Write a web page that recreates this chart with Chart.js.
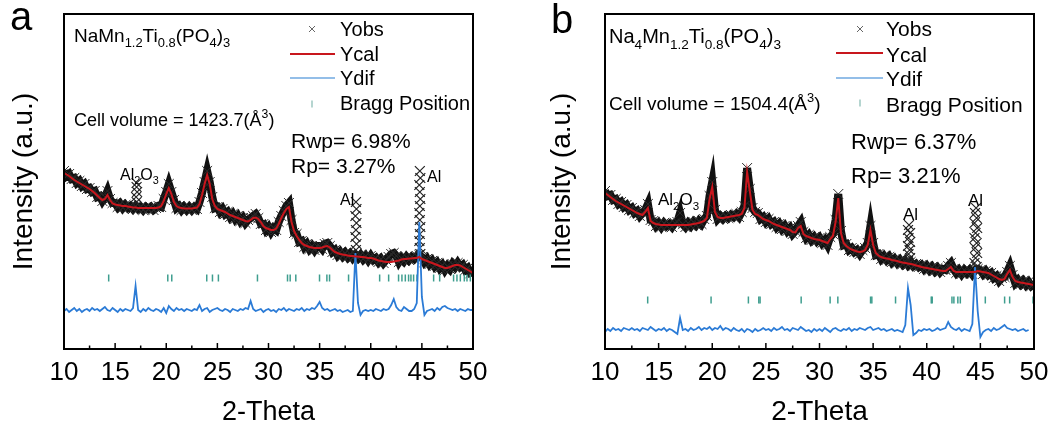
<!DOCTYPE html>
<html lang="en">

<head>
    <meta charset="UTF-8" />
    <title>XRD Rietveld refinement</title>
    <script src="https://cdn.jsdelivr.net/npm/chart.js"></script>
    <style>
        body {
            margin: 0;
            background: #fff;
        }

        #wrap {
            position: relative;
            width: 1062px;
            height: 426px;
        }

        canvas {
            position: absolute;
            top: 0;
        }
    </style>
</head>

<body>
    <div id="wrap">
        <canvas id="chartA" width="531" height="426" style="left:0"></canvas>
        <canvas id="chartB" width="531" height="426" style="left:531px"></canvas>
    </div>

    <script>
        // 2-theta grid shared by both patterns (deg)
        const twoTheta = [
            10, 10.25, 10.5, 10.75, 11, 11.25, 11.5, 11.75, 12, 12.25,
            12.5, 12.75, 13, 13.25, 13.5, 13.75, 14, 14.25, 14.5, 14.75,
            15, 15.25, 15.5, 15.75, 16, 16.25, 16.5, 16.75, 17, 17.25,
            17.5, 17.75, 18, 18.25, 18.5, 18.75, 19, 19.25, 19.5, 19.75,
            20, 20.25, 20.5, 20.75, 21, 21.25, 21.5, 21.75, 22, 22.25,
            22.5, 22.75, 23, 23.25, 23.5, 23.75, 24, 24.25, 24.5, 24.75,
            25, 25.25, 25.5, 25.75, 26, 26.25, 26.5, 26.75, 27, 27.25,
            27.5, 27.75, 28, 28.25, 28.5, 28.75, 29, 29.25, 29.5, 29.75,
            30, 30.25, 30.5, 30.75, 31, 31.25, 31.5, 31.75, 32, 32.25,
            32.5, 32.75, 33, 33.25, 33.5, 33.75, 34, 34.25, 34.5, 34.75,
            35, 35.25, 35.5, 35.75, 36, 36.25, 36.5, 36.75, 37, 37.25,
            37.5, 37.75, 38, 38.25, 38.5, 38.75, 39, 39.25, 39.5, 39.75,
            40, 40.25, 40.5, 40.75, 41, 41.25, 41.5, 41.75, 42, 42.25,
            42.5, 42.75, 43, 43.25, 43.5, 43.75, 44, 44.25, 44.5, 44.75,
            45, 45.25, 45.5, 45.75, 46, 46.25, 46.5, 46.75, 47, 47.25,
            47.5, 47.75, 48, 48.25, 48.5, 48.75, 49, 49.25, 49.5, 49.75,
            50
        ];

        // ---- (a) NaMn1.2Ti0.8(PO4)3 ----
        const obsA = [
            178, 173, 175, 170, 171, 166, 168, 163, 165, 160,
            161, 157, 158, 152, 153, 148, 152, 158, 150, 146,
            146, 142, 145, 141, 144, 141, 143, 140, 143, 140,
            142, 139, 142, 140, 142, 139, 141, 143, 142, 150,
            157, 165, 157, 149, 141, 143, 139, 142, 139, 142,
            139, 142, 140, 147, 156, 167, 178, 167, 152, 141,
            142, 137, 140, 135, 137, 132, 135, 130, 133, 128,
            131, 126, 129, 131, 133, 135, 131, 125, 125, 119,
            122, 117, 121, 119, 127, 133, 138, 143, 146, 129,
            116, 115, 107, 108, 102, 105, 100, 103, 99, 103,
            103, 100, 105, 106, 103, 97, 99, 94, 97, 93,
            96, 92, 95, 91, 94, 91, 94, 90, 93, 89,
            93, 89, 91, 87, 90, 86, 89, 92, 95, 96,
            93, 87, 91, 88, 92, 89, 92, 90, 93, 94,
            92, 87, 90, 85, 88, 83, 86, 81, 84, 79,
            83, 80, 85, 82, 86, 82, 84, 79, 81, 76,
            77
        ];
        const calA = [
            176, 174.5, 173, 171, 169, 167.5, 166, 164.5, 163, 161.5,
            160, 158, 156, 153.5, 151, 149, 150, 154, 149, 145.5,
            144.5, 144, 143.5, 143, 143, 142.5, 142, 141.5, 141.5, 141,
            141, 141, 141, 141, 141, 141, 141, 141.5, 143, 148,
            155, 161, 155, 147, 143, 141.5, 141, 140.5, 140.5, 140.5,
            140.5, 141, 141.5, 145, 154, 165, 174, 165, 150, 143,
            140, 139, 138, 137, 135.5, 134, 133, 132, 131, 130,
            129, 128, 127.5, 129, 131, 131.5, 130, 127, 123, 121,
            120, 119, 119, 120.5, 125, 131, 136, 140, 142, 127,
            118, 113, 109, 106, 104, 103, 102, 101.5, 101, 101,
            101, 101.5, 102.5, 103, 101.5, 99, 97, 96, 95, 94.5,
            94, 93.5, 93, 93, 92.5, 92.5, 92, 92, 91.5, 91,
            91, 90.5, 89.5, 88.5, 88, 87.5, 87, 87, 87, 87.5,
            88, 88.5, 89.5, 90, 90, 90.5, 90.5, 91, 91, 92,
            90, 89, 88, 87, 86, 85, 84, 83, 82, 81,
            81, 82, 83, 84, 84, 83.5, 82, 80.5, 79, 77.5,
            76
        ];
        const difA = [
            38, 40, 37, 39, 41, 38, 40, 37, 39, 40,
            38, 41, 39, 40, 38, 40, 42, 39, 38, 41,
            39, 37, 40, 38, 40, 39, 38, 41, 63, 39,
            37, 40, 38, 41, 39, 38, 40, 39, 37, 41,
            36, 43, 40, 38, 41, 39, 40, 38, 40, 39,
            38, 40, 39, 44, 38, 40, 41, 37, 39, 40,
            41, 39, 38, 40, 39, 37, 40, 39, 38, 40,
            39, 41, 40, 48, 40, 38, 39, 40, 37, 39,
            40, 38, 39, 37, 40, 39, 41, 38, 40, 39,
            38, 40, 39, 41, 38, 40, 39, 41, 40, 43,
            47, 41, 39, 40, 38, 39, 40, 38, 39, 37,
            38, 39, 37, 38, 96, 46, 34, 38, 39, 38,
            39, 38, 40, 39, 38, 40, 39, 40, 44, 50,
            42, 39, 38, 42, 40, 38, 38, 40, 46, 127,
            52, 34, 38, 39, 40, 38, 41, 39, 42, 43,
            41, 40, 39, 40, 38, 40, 39, 38, 40, 39,
            39
        ];
        // stacked Yobs crosses at the Al2O3 and Al reflections
        const alXA = [17.1, 17.05, 17.15, 17.1, 17.1,
            38.55, 38.6, 38.5, 38.6, 38.55, 38.5, 38.6, 38.55,
            44.8, 44.85, 44.75, 44.8, 44.85, 44.8, 44.75, 44.8, 44.85, 44.8, 44.75, 44.8, 44.85];
        const alYA = [147, 152, 157, 162, 166,
            147, 140, 133, 126, 119, 112, 105, 99,
            178, 171, 164, 157, 150, 143, 136, 129, 122, 115, 108, 101, 95];
        const braggA = [14.37, 20.15, 20.54, 23.96, 24.52, 25.1, 28.92, 31.86, 32.12, 32.67,
            34.99, 35.71, 35.97, 37.83, 40.87, 41.75, 42.72, 43.05, 43.38, 43.7, 43.93,
            44.19, 44.52, 46.15, 46.74, 48.1, 48.43, 48.76, 49.15, 49.41, 49.74];

        // ---- (b) Na4Mn1.2Ti0.8(PO4)3 ----
        const obsB = [
            158, 153, 154, 149, 150, 145, 147, 142, 144, 139,
            141, 136, 138, 133, 136, 139, 145, 129, 128, 123,
            126, 122, 126, 123, 125, 122, 126, 127, 136, 125,
            122, 126, 123, 127, 124, 128, 125, 130, 133, 153,
            167, 139, 130, 133, 130, 133, 131, 134, 132, 135,
            132, 137, 143, 181, 160, 141, 137, 136, 130, 132,
            127, 130, 125, 127, 122, 125, 120, 123, 118, 121,
            115, 118, 123, 127, 117, 111, 114, 109, 112, 108,
            111, 106, 109, 104, 112, 115, 129, 155, 118, 104,
            105, 99, 101, 97, 99, 95, 99, 101, 106, 123,
            106, 94, 95, 90, 93, 89, 92, 87, 90, 86,
            89, 85, 88, 84, 87, 83, 85, 82, 84, 80,
            83, 79, 82, 78, 81, 77, 80, 79, 83, 86,
            80, 76, 79, 75, 79, 76, 79, 75, 79, 80,
            79, 75, 78, 74, 76, 71, 73, 68, 71, 72,
            77, 83, 74, 66, 69, 65, 68, 64, 67, 63,
            65
        ];
        const calB = [
            156, 154, 152, 150, 148, 146.5, 145, 143.5, 142, 140.5,
            139, 137.5, 136, 135, 134, 137, 141, 128, 126, 125,
            124.5, 124, 124, 124, 124, 124, 124, 124, 124, 124,
            124, 124, 124.5, 125, 125.5, 126, 127, 128, 131, 150,
            162, 137, 132, 131, 131, 131.5, 132, 132.5, 133, 133.5,
            134, 135, 141, 177, 158, 139, 135, 134, 132, 130,
            129, 128, 126.5, 125, 124, 123, 122, 121, 120, 119,
            117, 116.5, 121, 123, 115, 113, 112, 111, 110, 109.5,
            109, 108, 107, 106, 110, 113, 127, 151, 116, 106,
            103, 101, 99.5, 98.5, 97.5, 97, 97.5, 99, 104, 119,
            104, 96, 93.5, 92, 91, 90.5, 90, 89, 88.5, 88,
            87, 86.5, 86, 85.5, 85, 84.5, 83.5, 83, 82, 81.5,
            81, 80.5, 80, 79.5, 79, 78.5, 78, 78, 80, 82,
            78, 77, 77, 77, 77, 77, 77, 77, 77, 78,
            77.5, 77, 76.5, 76, 74.5, 73, 71.5, 70, 69, 70,
            75, 79, 72, 68, 67, 66.5, 66, 65.5, 65, 64.5,
            64
        ];
        const difB = [
            17, 20, 18, 21, 19, 20, 18, 21, 20, 19,
            21, 19, 20, 18, 21, 20, 19, 22, 20, 18,
            20, 19, 21, 18, 20, 19, 17, 15, 31, 19,
            20, 18, 21, 19, 20, 22, 19, 21, 20, 22,
            19, 21, 20, 23, 19, 21, 20, 18, 21, 19,
            18, 20, 17, 20, 19, 17, 20, 18, 19, 21,
            19, 20, 18, 21, 19, 20, 22, 19, 20, 18,
            21, 20, 19, 22, 20, 18, 19, 17, 20, 18,
            20, 18, 21, 19, 17, 20, 21, 19, 18, 20,
            19, 21, 18, 20, 19, 21, 20, 19, 21, 22,
            19, 20, 21, 19, 20, 18, 19, 20, 18, 19,
            18, 17, 24, 61, 44, 14, 16, 19, 18, 20,
            19, 20, 18, 19, 21, 19, 20, 21, 27, 22,
            20, 19, 21, 18, 20, 19, 18, 25, 82, 38,
            12, 17, 19, 20, 18, 21, 19, 20, 22, 24,
            21, 20, 19, 20, 18, 19, 20, 18, 19, null,
            null
        ];
        const alXB = [38.35, 38.25, 38.45, 38.3, 38.45, 38.25, 38.4, 38.3, 38.45, 38.25,
            44.6, 44.5, 44.65, 44.45, 44.7, 44.55, 44.45, 44.65, 44.5, 44.7, 44.55, 44.45, 44.65];
        const alYB = [124, 119, 116, 111, 107, 103, 99, 95, 91, 88,
            141, 136, 131, 126, 121, 116, 111, 106, 101, 96, 91, 86, 82];
        const braggB = [13.98, 19.89, 23.37, 24.34, 24.46, 28.29, 30.99, 31.71, 34.76, 34.88,
            37.09, 40.42, 40.51, 42.35, 42.53, 42.9, 43.13, 45.46, 47.26, 47.73, 49.91];

        const FONT = "'Liberation Sans', Arial, sans-serif";
        const RED = "#c8161d";
        const BLUE = "#2b7bd6";
        const TEAL = "#3f9e8f";

        const xy = (xs, ys) => xs.map((x, i) => ({ x: x, y: ys[i] }));

        // text with sub/superscripts: parts = [[text, ""|"sub"|"sup"], ...]
        function rich(ctx, x, y, parts, size) {
            let cx = x;
            parts.forEach(([t, mode]) => {
                const s = mode ? size * 0.68 : size;
                ctx.font = s + "px " + FONT;
                const dy = mode === "sub" ? size * 0.28 : (mode === "sup" ? -size * 0.42 : 0);
                ctx.fillText(t, cx, y + dy);
                cx += ctx.measureText(t).width;
            });
        }

        function decoPlugin(d) {
            return {
                id: "deco",
                afterDraw(chart) {
                    const ctx = chart.ctx;
                    const a = chart.chartArea;
                    const xs = chart.scales.x;
                    ctx.save();

                    // inward ticks on bottom axis
                    ctx.strokeStyle = "#000";
                    ctx.lineWidth = 1.5;
                    for (let v = 12.5; v < 50; v += 2.5) {
                        const px = xs.getPixelForValue(v);
                        const len = v % 5 === 0 ? 6 : 3.5;
                        ctx.beginPath();
                        ctx.moveTo(px, a.bottom);
                        ctx.lineTo(px, a.bottom - len);
                        ctx.stroke();
                    }
                    // frame
                    ctx.lineWidth = 2;
                    ctx.strokeRect(a.left, a.top, a.right - a.left, a.bottom - a.top);

                    // legend symbols
                    const L = d.legend;
                    ctx.strokeStyle = "#666";
                    ctx.lineWidth = 1;
                    ctx.beginPath();
                    ctx.moveTo(L.mark - 3, L.rows[0] - 3); ctx.lineTo(L.mark + 3, L.rows[0] + 3);
                    ctx.moveTo(L.mark + 3, L.rows[0] - 3); ctx.lineTo(L.mark - 3, L.rows[0] + 3);
                    ctx.stroke();
                    ctx.strokeStyle = RED;
                    ctx.lineWidth = 2;
                    ctx.beginPath(); ctx.moveTo(L.x0, L.rows[1]); ctx.lineTo(L.x1, L.rows[1]); ctx.stroke();
                    ctx.strokeStyle = "#6fa8e0";
                    ctx.lineWidth = 1.5;
                    ctx.beginPath(); ctx.moveTo(L.x0, L.rows[2]); ctx.lineTo(L.x1, L.rows[2]); ctx.stroke();
                    ctx.strokeStyle = "#9cc7c0";
                    ctx.lineWidth = 1.5;
                    ctx.beginPath(); ctx.moveTo(L.mark, L.rows[3] - 3.5); ctx.lineTo(L.mark, L.rows[3] + 3.5); ctx.stroke();

                    // texts
                    ctx.fillStyle = "#000";
                    ctx.textAlign = "left";
                    ctx.textBaseline = "alphabetic";
                    d.texts.forEach(t => rich(ctx, t.x, t.y, t.parts, t.size));

                    // axis titles
                    ctx.textAlign = "center";
                    ctx.font = d.xTitle.size + "px " + FONT;
                    ctx.fillText("2-Theta", d.xTitle.x, d.xTitle.y);
                    ctx.translate(d.yTitle.x, d.yTitle.y);
                    ctx.rotate(-Math.PI / 2);
                    ctx.font = d.yTitle.size + "px " + FONT;
                    ctx.fillText("Intensity (a.u.)", 0, 0);
                    ctx.restore();
                }
            };
        }

        const plain = t => [[t, ""]];

        const decoA = {
            legend: { mark: 312, x0: 290, x1: 335, rows: [29, 54, 78, 104] },
            xTitle: { x: 268.5, y: 420, size: 27 },
            yTitle: { x: 32, y: 181.5, size: 28 },
            texts: [
                { x: 10, y: 30, size: 40, parts: plain("a") },
                { x: 74, y: 42, size: 19, parts: [["NaMn", ""], ["1.2", "sub"], ["Ti", ""], ["0.8", "sub"], ["(PO", ""], ["4", "sub"], [")", ""], ["3", "sub"]] },
                { x: 340, y: 36, size: 20, parts: plain("Yobs") },
                { x: 340, y: 61, size: 20, parts: plain("Ycal") },
                { x: 340, y: 85, size: 20, parts: plain("Ydif") },
                { x: 340, y: 110, size: 20, parts: plain("Bragg Position") },
                { x: 74, y: 126, size: 18, parts: [["Cell volume = 1423.7(Å", ""], ["3", "sup"], [")", ""]] },
                { x: 291, y: 148, size: 21, parts: plain("Rwp= 6.98%") },
                { x: 291, y: 173, size: 21, parts: plain("Rp= 3.27%") },
                { x: 120, y: 180, size: 16, parts: [["Al", ""], ["2", "sub"], ["O", ""], ["3", "sub"]] },
                { x: 340, y: 205, size: 16, parts: plain("Al") },
                { x: 427, y: 182, size: 16, parts: plain("Al") }
            ]
        };

        const decoB = {
            legend: { mark: 329, x0: 305, x1: 352, rows: [29, 53, 78, 103] },
            xTitle: { x: 288.5, y: 420, size: 28 },
            yTitle: { x: 39, y: 181.5, size: 28 },
            texts: [
                { x: 20, y: 33, size: 40, parts: plain("b") },
                { x: 78, y: 43, size: 20, parts: [["Na", ""], ["4", "sub"], ["Mn", ""], ["1.2", "sub"], ["Ti", ""], ["0.8", "sub"], ["(PO", ""], ["4", "sub"], [")", ""], ["3", "sub"]] },
                { x: 355, y: 36, size: 21, parts: plain("Yobs") },
                { x: 355, y: 62, size: 21, parts: plain("Ycal") },
                { x: 355, y: 86, size: 21, parts: plain("Ydif") },
                { x: 355, y: 112, size: 21, parts: plain("Bragg Position") },
                { x: 78, y: 110, size: 19, parts: [["Cell volume = 1504.4(Å", ""], ["3", "sup"], [")", ""]] },
                { x: 320, y: 149, size: 22, parts: plain("Rwp= 6.37%") },
                { x: 320, y: 183, size: 22, parts: plain("Rp= 3.21%") },
                { x: 127, y: 205, size: 17, parts: [["Al", ""], ["2", "sub"], ["O", ""], ["3", "sub"]] },
                { x: 372, y: 220, size: 17, parts: plain("Al") },
                { x: 437, y: 206, size: 17, parts: plain("Al") }
            ]
        };

        function makePanel(id, obs, cal, dif, alX, alY, bragg, braggLevel, deco, padLeft, padRight) {
            return new Chart(document.getElementById(id), {
                type: "line",
                data: {
                    datasets: [
                        { label: "Ycal", data: xy(twoTheta, cal), borderColor: RED, borderWidth: 2, pointRadius: 0, order: 0 },
                        { label: "Ydif", data: xy(twoTheta, dif), borderColor: BLUE, borderWidth: 1.8, pointRadius: 0, order: 1 },
                        {
                            label: "Bragg Position", data: bragg.map(x => ({ x: x, y: braggLevel })), showLine: false,
                            pointStyle: "line", pointRotation: 90, pointRadius: 3.5, pointBorderColor: TEAL, pointBorderWidth: 1.5, order: 2
                        },
                        {
                            label: "Yobs Al", data: xy(alX, alY), showLine: false, pointStyle: "crossRot",
                            pointRadius: 7, pointBorderColor: "#222", pointBorderWidth: 1.2, order: 3
                        },
                        {
                            label: "Yobs", data: xy(twoTheta, obs), borderColor: "#111", borderWidth: 8,
                            pointStyle: "crossRot", pointRadius: 7, pointBorderColor: "#2a2a2a", pointBorderWidth: 1, order: 4
                        }
                    ]
                },
                options: {
                    responsive: false,
                    animation: false,
                    devicePixelRatio: 1,
                    events: [],
                    layout: { padding: { top: 14, left: padLeft, right: padRight, bottom: 0 } },
                    plugins: { legend: { display: false }, tooltip: { enabled: false } },
                    scales: {
                        x: {
                            type: "linear", min: 10, max: 50,
                            ticks: { stepSize: 5, color: "#000", font: { family: FONT, size: 26 }, padding: 8, maxRotation: 0 },
                            grid: { display: false, drawTicks: false },
                            border: { display: false },
                            afterFit: s => { s.height = 77; }
                        },
                        y: { display: false, min: 0, max: 335 }
                    }
                },
                plugins: [decoPlugin(deco)]
            });
        }

        makePanel("chartA", obsA, calA, difA, alXA, alYA, braggA, 71, decoA, 64, 58);
        makePanel("chartB", obsB, calB, difB, alXB, alYB, braggB, 49, decoB, 74, 28);
    </script>
</body>

</html>
